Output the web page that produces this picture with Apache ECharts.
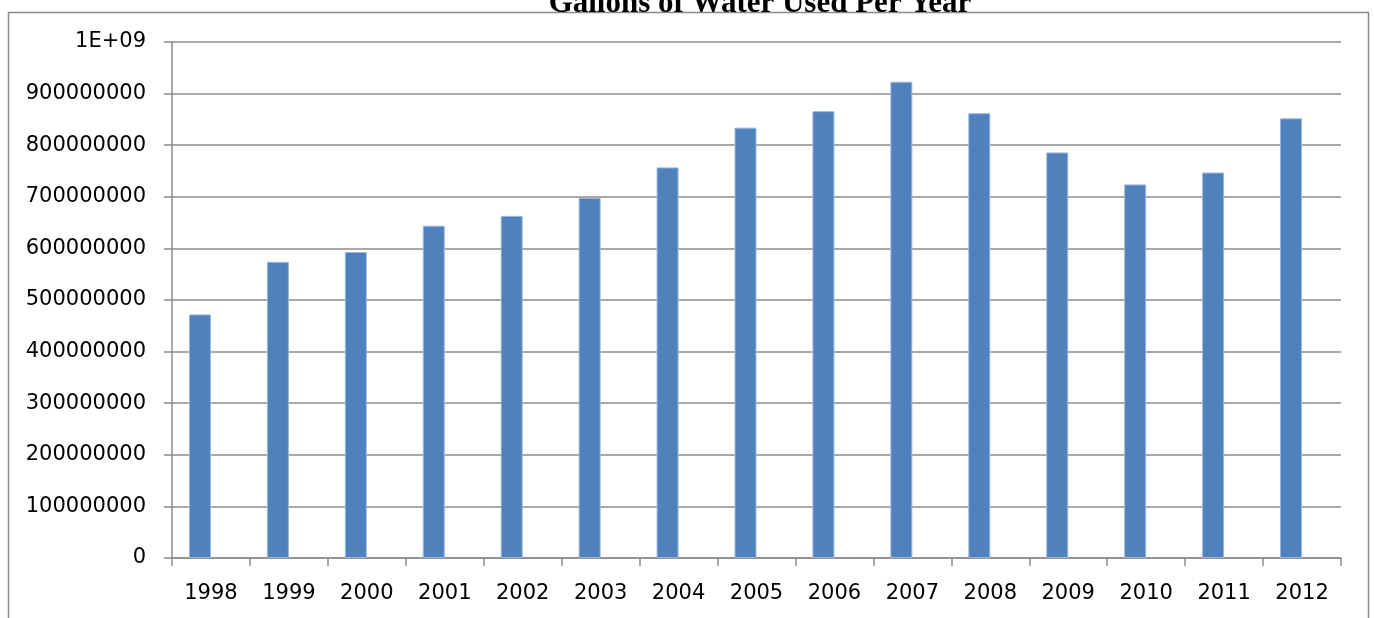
<!DOCTYPE html>
<html>
<head>
<meta charset="utf-8">
<title>Gallons of Water Used Per Year</title>
<script src="https://cdn.jsdelivr.net/npm/echarts@6/dist/echarts.min.js"></script>
<style>
	html, body { margin: 0; padding: 0; background: #fff; }
	#main { width: 1374px; height: 618px; }
</style>
</head>
<body>
<div id="main"></div>
<script type="text/javascript">
	// data
	var years = ['1998', '1999', '2000', '2001', '2002', '2003', '2004', '2005',
		'2006', '2007', '2008', '2009', '2010', '2011', '2012'];
	var gallons = [472000000, 574000000, 593000000, 644000000, 663000000, 698000000,
		757000000, 834000000, 866000000, 923000000, 862000000, 786000000,
		724000000, 747000000, 852000000];
	var yTickLabels = ['0', '100000000', '200000000', '300000000', '400000000', '500000000',
		'600000000', '700000000', '800000000', '900000000', '1E+09'];

	var myChart = echarts.init(document.getElementById('main'));
	var lineGrey = '#8c8c8c';
	var labelFont = 'DejaVu Sans';

	var option = {
		animation: false,
		title: {
			text: 'Gallons of Water Used Per Year',
			left: 755,
			textAlign: 'center',
			top: -17,
			textStyle: {
				fontFamily: 'Liberation Serif',
				fontWeight: 'bold',
				fontSize: 31,
				lineHeight: 31,
				color: '#000'
			}
		},
		graphic: [{
			// chart frame
			type: 'rect',
			shape: { x: 8.5, y: 12.5, width: 1360, height: 700 },
			style: { fill: 'none', stroke: '#8a8a8a', lineWidth: 1.5 },
			z: -1
		}],
		grid: {
			left: 172,
			right: 33,
			top: 42,
			bottom: 60
		},
		xAxis: {
			type: 'category',
			data: years,
			axisLine: { lineStyle: { color: lineGrey, width: 1.5 } },
			axisTick: { show: true, alignWithLabel: false, length: 8, lineStyle: { color: lineGrey, width: 1.5 } },
			axisLabel: { color: '#000', fontFamily: labelFont, fontSize: 21, margin: 25 }
		},
		yAxis: {
			type: 'value',
			min: 0,
			max: 1000000000,
			interval: 100000000,
			axisLine: { show: true, lineStyle: { color: lineGrey, width: 1.5 } },
			axisTick: { show: true, length: 8, lineStyle: { color: lineGrey, width: 1.5 } },
			splitLine: { lineStyle: { color: lineGrey, width: 1.5 } },
			axisLabel: {
				color: '#000',
				fontFamily: labelFont,
				fontSize: 21,
				margin: 26,
				formatter: function (value, index) {
					return yTickLabels[index];
				}
			}
		},
		series: [
			{
				name: 'Gallons',
				type: 'bar',
				data: gallons,
				barWidth: 22,
				barGap: '0%',
				itemStyle: { color: '#4f81bd', borderColor: '#9db7da', borderWidth: 1 }
			},
			{
				// empty second series, Excel leaves its slot on the right of each bar
				name: '',
				type: 'bar',
				data: [],
				barWidth: 22,
				barGap: '0%'
			}
		]
	};
	myChart.setOption(option);
</script>
</body>
</html>
